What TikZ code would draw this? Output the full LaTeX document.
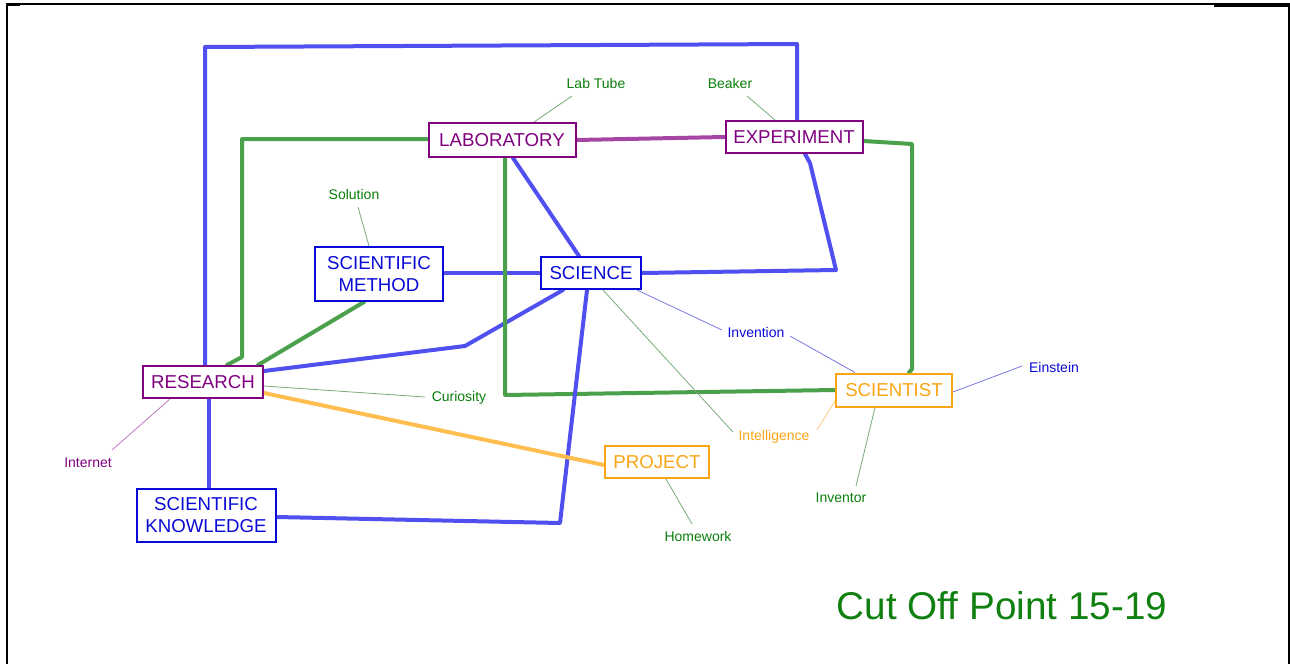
\documentclass[tikz,border=0pt]{standalone}
\usepackage{fontspec}
\setmainfont{Liberation Sans}
\usetikzlibrary{backgrounds,calc}
\definecolor{pur}{RGB}{128,0,128}
\definecolor{purline}{RGB}{165,70,165}
\definecolor{purthin}{RGB}{190,120,190}
\definecolor{blu}{RGB}{10,10,215}
\definecolor{bluline}{RGB}{80,80,240}
\definecolor{bluthin}{RGB}{120,120,230}
\definecolor{grn}{RGB}{10,125,10}
\definecolor{grnline}{RGB}{75,160,75}
\definecolor{grnthin}{RGB}{120,170,120}
\definecolor{org}{RGB}{250,165,20}
\definecolor{orgline}{RGB}{255,190,80}
\definecolor{orgthin}{RGB}{250,200,130}
\definecolor{ttl}{RGB}{16,128,16}
\begin{document}
\begin{tikzpicture}[x=0.75pt,y=-0.75pt,
  box/.style={draw, line width=1.5pt, fill=white, inner sep=0pt, align=center,
    font=\fontsize{14}{16.5}\selectfont},
  pbox/.style={box, draw=pur, text=pur},
  bbox/.style={box, draw=blu, text=blu},
  obox/.style={box, draw=org, text=org},
  lbl/.style={inner sep=1pt, font=\fontsize{10.5}{12}\selectfont},
  thick/.style={line width=3pt, line join=round, line cap=round},
  thin/.style={line width=0.6pt},
  title/.style={inner sep=0pt, text=ttl, font=\fontsize{29}{34}\selectfont}]
\useasboundingbox (0,0) rectangle (1290,664);
% page frame
\draw[line width=1.2pt] (7,664) -- (7,4) -- (1289,4) -- (1289,664);
\draw[line width=2.2pt] (7,5) -- (20,5);
\draw[line width=2.2pt] (1214,5.5) -- (1288,5.5);

% main nodes
\node[pbox, minimum width=110.25pt, minimum height=25.5pt] (lab) at (502,140) {LABORATORY};
\node[pbox, minimum width=102.75pt, minimum height=24pt] (exp) at (794,137) {EXPERIMENT};
\node[bbox, minimum width=96pt, minimum height=40.5pt] (sm) at (379,274) {SCIENTIFIC\\METHOD};
\node[bbox, minimum width=75pt, minimum height=24pt] (sci) at (591,273) {SCIENCE};
\node[pbox, minimum width=90pt, minimum height=24pt] (res) at (203,382) {RESEARCH};
\node[bbox, minimum width=104.25pt, minimum height=39.75pt] (sk) at (206,515) {SCIENTIFIC\\KNOWLEDGE};
\node[obox, minimum width=78pt, minimum height=24pt] (proj) at (657,462) {PROJECT};
\node[obox, minimum width=87pt, minimum height=24.75pt] (sist) at (894,390) {SCIENTIST};

% small labels
\node[lbl, text=grn] (labtube) at (596,83) {Lab Tube};
\node[lbl, text=grn] (beaker) at (730,83) {Beaker};
\node[lbl, text=grn] (solution) at (354,194) {Solution};
\node[lbl, text=pur] (internet) at (88,463) {Internet};
\node[lbl, text=grn] (curiosity) at (459,398) {Curiosity};
\node[lbl, text=grn] (homework) at (698,536) {Homework};
\node[lbl, text=blu] (einstein) at (1054,367) {Einstein};
\node[lbl, text=grn] (inventor) at (841,498) {Inventor};
\node[lbl, text=org] (intelligence) at (774,437) {Intelligence};
\node[lbl, text=blu] (invention) at (756,332) {Invention};

\node[title] (cut) at (1002,606) {Cut Off Point 15-19};

% bend points
\coordinate (b1) at (205,47);
\coordinate (b2) at (797,44);
\coordinate (g1) at (242,357);
\coordinate (g2) at (242,139);
\coordinate (r1) at (465,346);
\coordinate (g3) at (505,395);
\coordinate (g4) at (912,144);
\coordinate (g5) at (912,369);
\coordinate (e1) at (810,163);
\coordinate (e2) at (836,270);
\coordinate (k1) at (560,523);

\begin{scope}[on background layer]
  % thick connectors
  \draw[thick, bluline] (res.north -| b1) -- (b1) -- (b2) -- (exp.north -| b2);
  \draw[thick, grnline] (res.north -| 227,0) -- (g1) -- (g2) -- (lab.west |- g2);
  \draw[thick, grnline] (res.north -| 258,0) -- (sm.south -| 364,0);
  \draw[thick, bluline] (res.east |- 0,371) -- (r1) -- (sci.south -| 563,0);
  \draw[thick, bluline] (sm.east |- 0,273) -- (sci.west);
  \draw[thick, bluline] (lab.south -| 513,0) -- (sci.north -| 579,0);
  \draw[thick, grnline] (lab.south -| g3) -- (g3) -- (sist.west);
  \draw[thick, purline] (lab.east) -- (exp.west);
  \draw[thick, grnline] (exp.east |- 0,141) -- (g4) -- (g5) -- (sist.north -| 909,0);
  \draw[thick, bluline] (exp.south -| 805,0) -- (e1) -- (e2) -- (sci.east);
  \draw[thick, bluline] (sci.south -| 587,0) -- (k1) -- (sk.east |- 0,517);
  \draw[thick, bluline] (res.south -| 209,0) -- (sk.north -| 209,0);
  \draw[thick, orgline] (res.east |- 0,393) -- (proj.west |- 0,465);
  % thin connectors
  \draw[thin, grnthin] ($(labtube.center)+(-24,13)$) -- (lab.north -| 534,0);
  \draw[thin, grnthin] ($(beaker.center)+(17,13)$) -- (exp.north -| 775,0);
  \draw[thin, grnthin] ($(solution.center)+(4,13)$) -- (sm.north -| 369,0);
  \draw[thin, purthin] ($(internet.center)+(24,-13)$) -- (res.south -| 170,0);
  \draw[thin, grnthin] ($(curiosity.center)+(-34,-1)$) -- (res.east |- 0,386);
  \draw[thin, grnthin] ($(homework.center)+(-6,-12)$) -- (proj.south -| 666,0);
  \draw[thin, bluthin] ($(einstein.center)+(-32,-1)$) -- (sist.east |- 0,392);
  \draw[thin, grnthin] ($(inventor.center)+(15,-12)$) -- (sist.south -| 875,0);
  \draw[thin, orgthin] ($(intelligence.center)+(43,-7)$) -- (sist.west |- 0,401);
  \draw[thin, grnthin] ($(intelligence.center)+(-41,-5)$) -- (sci.south -| 603,0);
  \draw[thin, bluthin] ($(invention.center)+(-34,-2)$) -- (sci.south -| 637,0);
  \draw[thin, bluthin] ($(invention.center)+(34,4)$) -- (sist.north -| 855,0);
\end{scope}
\end{tikzpicture}
\end{document}
